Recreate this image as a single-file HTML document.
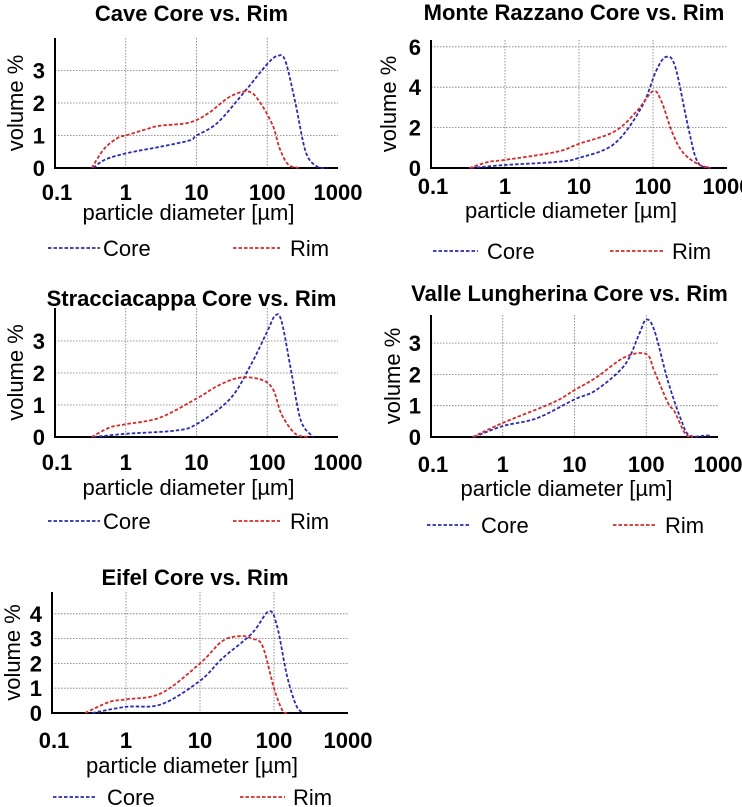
<!DOCTYPE html>
<html><head><meta charset="utf-8"><style>
body{margin:0;background:#fff;width:742px;height:807px;overflow:hidden}
svg{display:block}
text{font-family:"Liberation Sans",Arial,sans-serif}
</style></head><body>
<svg id="c" width="742" height="807" viewBox="0 0 742 807" xmlns="http://www.w3.org/2000/svg"></svg>
<script>
const caveCoreX=[0.35,0.5,1,3,8,10,20,50,100,140,180,250,350,500,700];
const caveCoreY=[0,0.25,0.45,0.65,0.85,1.0,1.4,2.4,3.2,3.45,3.3,2.0,0.5,0.05,0];
const caveRimX=[0.33,0.5,0.8,1,2,3,8,15,30,55,80,120,150,200,300];
const caveRimY=[0,0.6,0.95,1.0,1.2,1.3,1.4,1.7,2.2,2.35,2.0,1.3,0.6,0.1,0];
const monteCoreX=[0.35,1,5,10,30,70,110,150,200,300,400,600];
const monteCoreY=[0,0.15,0.3,0.5,1.2,3.0,4.8,5.5,5.0,2.0,0.3,0];
const monteRimX=[0.33,0.6,1,5,10,30,60,100,130,180,250,400,600];
const monteRimY=[0,0.3,0.4,0.8,1.2,1.8,2.8,3.8,3.3,1.8,0.8,0.2,0];
const straCoreX=[0.35,1,5,10,30,60,100,130,160,220,300,450];
const straCoreY=[0,0.1,0.2,0.4,1.2,2.3,3.3,3.8,3.6,2.0,0.5,0];
const straRimX=[0.33,0.6,1,3,10,20,40,80,120,160,250,400];
const straRimY=[0,0.3,0.4,0.6,1.2,1.6,1.85,1.8,1.5,0.7,0.1,0];
const valleCoreX=[0.4,1,3,10,20,50,80,100,130,200,300,400,700,800];
const valleCoreY=[0,0.35,0.6,1.2,1.5,2.3,3.3,3.75,3.4,1.8,0.6,0.05,0.05,0];
const valleRimX=[0.38,1,5,10,20,50,100,130,200,250,350,450];
const valleRimY=[0,0.45,1.1,1.5,1.9,2.55,2.65,2.1,1.1,0.8,0.1,0];
const eifelCoreX=[0.35,1,3,10,20,50,85,110,150,200,250];
const eifelCoreY=[0,0.25,0.35,1.3,2.2,3.2,4.1,3.5,1.5,0.3,0];
const eifelRimX=[0.28,0.6,1,3,10,20,35,50,70,100,130,150];
const eifelRimY=[0,0.45,0.55,0.8,2.0,2.9,3.1,3.0,2.7,1.0,0.1,0];
const xTickLabels=["0.1","1","10","100","1000"];
const yTicksA=[0,1,2,3];const yTicksB=[0,2,4,6];const yTicksC=[0,1,2,3,4];

const panels=[
 {name:"cave",title:"Cave Core vs. Rim",ax:55,right:338,top:38,base:168,unit:32.5,yt:yTicksA,ty:13,tickY:192,xlY:212,legY:248,ylX:15,leg:[48,100,103,233,280,290],cx:caveCoreX,cy:caveCoreY,rx:caveRimX,ry:caveRimY},
 {name:"monte-razzano",title:"Monte Razzano Core vs. Rim",ax:431,right:727,top:40,base:168,unit:20.2,yt:yTicksB,ty:12,tickY:186,xlY:210,legY:251,ylX:388,leg:[433,478,487,610,665,672],cx:monteCoreX,cy:monteCoreY,rx:monteRimX,ry:monteRimY},
 {name:"stracciacappa",title:"Stracciacappa Core vs. Rim",ax:55,right:338,top:308,base:437,unit:32,yt:yTicksA,ty:298,tickY:462,xlY:487,legY:521,ylX:15,leg:[48,100,103,233,280,290],cx:straCoreX,cy:straCoreY,rx:straRimX,ry:straRimY},
 {name:"valle-lungherina",title:"Valle Lungherina Core vs. Rim",ax:431,right:718,top:315,base:437,unit:31.3,yt:yTicksA,ty:293,tickY:464,xlY:488,legY:525,ylX:392,leg:[427,470,481,613,657,665],cx:valleCoreX,cy:valleCoreY,rx:valleRimX,ry:valleRimY},
 {name:"eifel",title:"Eifel Core vs. Rim",ax:52,right:348,top:592,base:713,unit:24.8,yt:yTicksC,ty:577,tickY:740,xlY:765,legY:797,ylX:12,leg:[53,97,107,240,285,293],cx:eifelCoreX,cy:eifelCoreY,rx:eifelRimX,ry:eifelRimY}
];
const NS="http://www.w3.org/2000/svg";
const svg=document.getElementById('c');
function mk(tag,attrs,parent,txt){const e=document.createElementNS(NS,tag);for(const k in attrs)e.setAttribute(k,attrs[k]);if(txt!==undefined)e.textContent=txt;parent.appendChild(e);return e;}
function smooth(pts){let d="M"+pts[0][0].toFixed(1)+","+pts[0][1].toFixed(1);for(let i=0;i<pts.length-1;i++){const p0=pts[Math.max(0,i-1)],p1=pts[i],p2=pts[i+1],p3=pts[Math.min(pts.length-1,i+2)];const c1=[p1[0]+(p2[0]-p0[0])/6,p1[1]+(p2[1]-p0[1])/6],c2=[p2[0]-(p3[0]-p1[0])/6,p2[1]-(p3[1]-p1[1])/6];d+=" C"+c1.map(v=>v.toFixed(1)).join(",")+" "+c2.map(v=>v.toFixed(1)).join(",")+" "+p2[0].toFixed(1)+","+p2[1].toFixed(1);}return d;}
panels.forEach(p=>{
 const g=mk('g',{},svg);
 
 
 const dec=(p.right-p.ax)/4;
 const xs=v=>p.ax+(Math.log10(v)+1)*dec;
 const ys=v=>p.base-v*p.unit;
 const t=mk('text',{x:(p.ax+p.right)/2-5,y:p.ty+8,'text-anchor':'middle','font-size':22,'font-weight':'bold'},g,p.title);
 
 
 p.yt.forEach(v=>{if(v>0){const l=mk('line',{x1:p.ax,x2:p.right,y1:ys(v),y2:ys(v),stroke:'#777','stroke-width':0.8,'stroke-dasharray':'1.5,1.5'},g);}
  const tl=mk('text',{x:p.ax-10,y:ys(v)+8,'text-anchor':'end','font-size':22,'font-weight':'bold'},g,String(v));
  });
 [1,10,100].forEach(v=>{const l=mk('line',{x1:xs(v),x2:xs(v),y1:p.top,y2:p.base,stroke:'#777','stroke-width':0.8,'stroke-dasharray':'1.5,1.5'},g);});
 xTickLabels.forEach((s,i)=>{const tl=mk('text',{x:p.ax+i*dec+(i==0?2:0),y:p.tickY+8,'text-anchor':'middle','font-size':22,'font-weight':'bold'},g,s);});
 const ax=mk('path',{d:`M${p.ax},${p.top}V${p.base}H${p.right}`,fill:'none',stroke:'#000','stroke-width':2},g);
 
 const xl=mk('text',{x:(p.ax+p.right)/2-8,y:p.xlY+8,'text-anchor':'middle','font-size':22},g,'particle diameter [µm]');
 
 const yc=(p.top+p.base)/2;
 const yl=mk('text',{x:p.ylX+8,y:yc,'text-anchor':'middle','font-size':22,transform:`rotate(-90 ${p.ylX+8} ${yc})`},g,'volume %');
 
 const core=mk('path',{d:smooth(p.cx.map((x,i)=>[xs(x),ys(p.cy[i])])),fill:'none',stroke:'#2b2bb0','stroke-width':1.8,'stroke-dasharray':'3.5,2'},g);
 
 const rim=mk('path',{d:smooth(p.rx.map((x,i)=>[xs(x),ys(p.ry[i])])),fill:'none',stroke:'#d42a2a','stroke-width':1.8,'stroke-dasharray':'3.5,2'},g);
 
 const L=p.leg;
 const l1=mk('line',{x1:L[0],x2:L[1],y1:p.legY,y2:p.legY,stroke:'#2b2bb0','stroke-width':1.8,'stroke-dasharray':'3.5,2'},g);
 
 const t1=mk('text',{x:L[2],y:p.legY+8,'font-size':22},g,'Core');
 
 const l2=mk('line',{x1:L[3],x2:L[4],y1:p.legY,y2:p.legY,stroke:'#d42a2a','stroke-width':1.8,'stroke-dasharray':'3.5,2'},g);
 
 const t2=mk('text',{x:L[5],y:p.legY+8,'font-size':22},g,'Rim');
 
});
</script>
</body></html>
